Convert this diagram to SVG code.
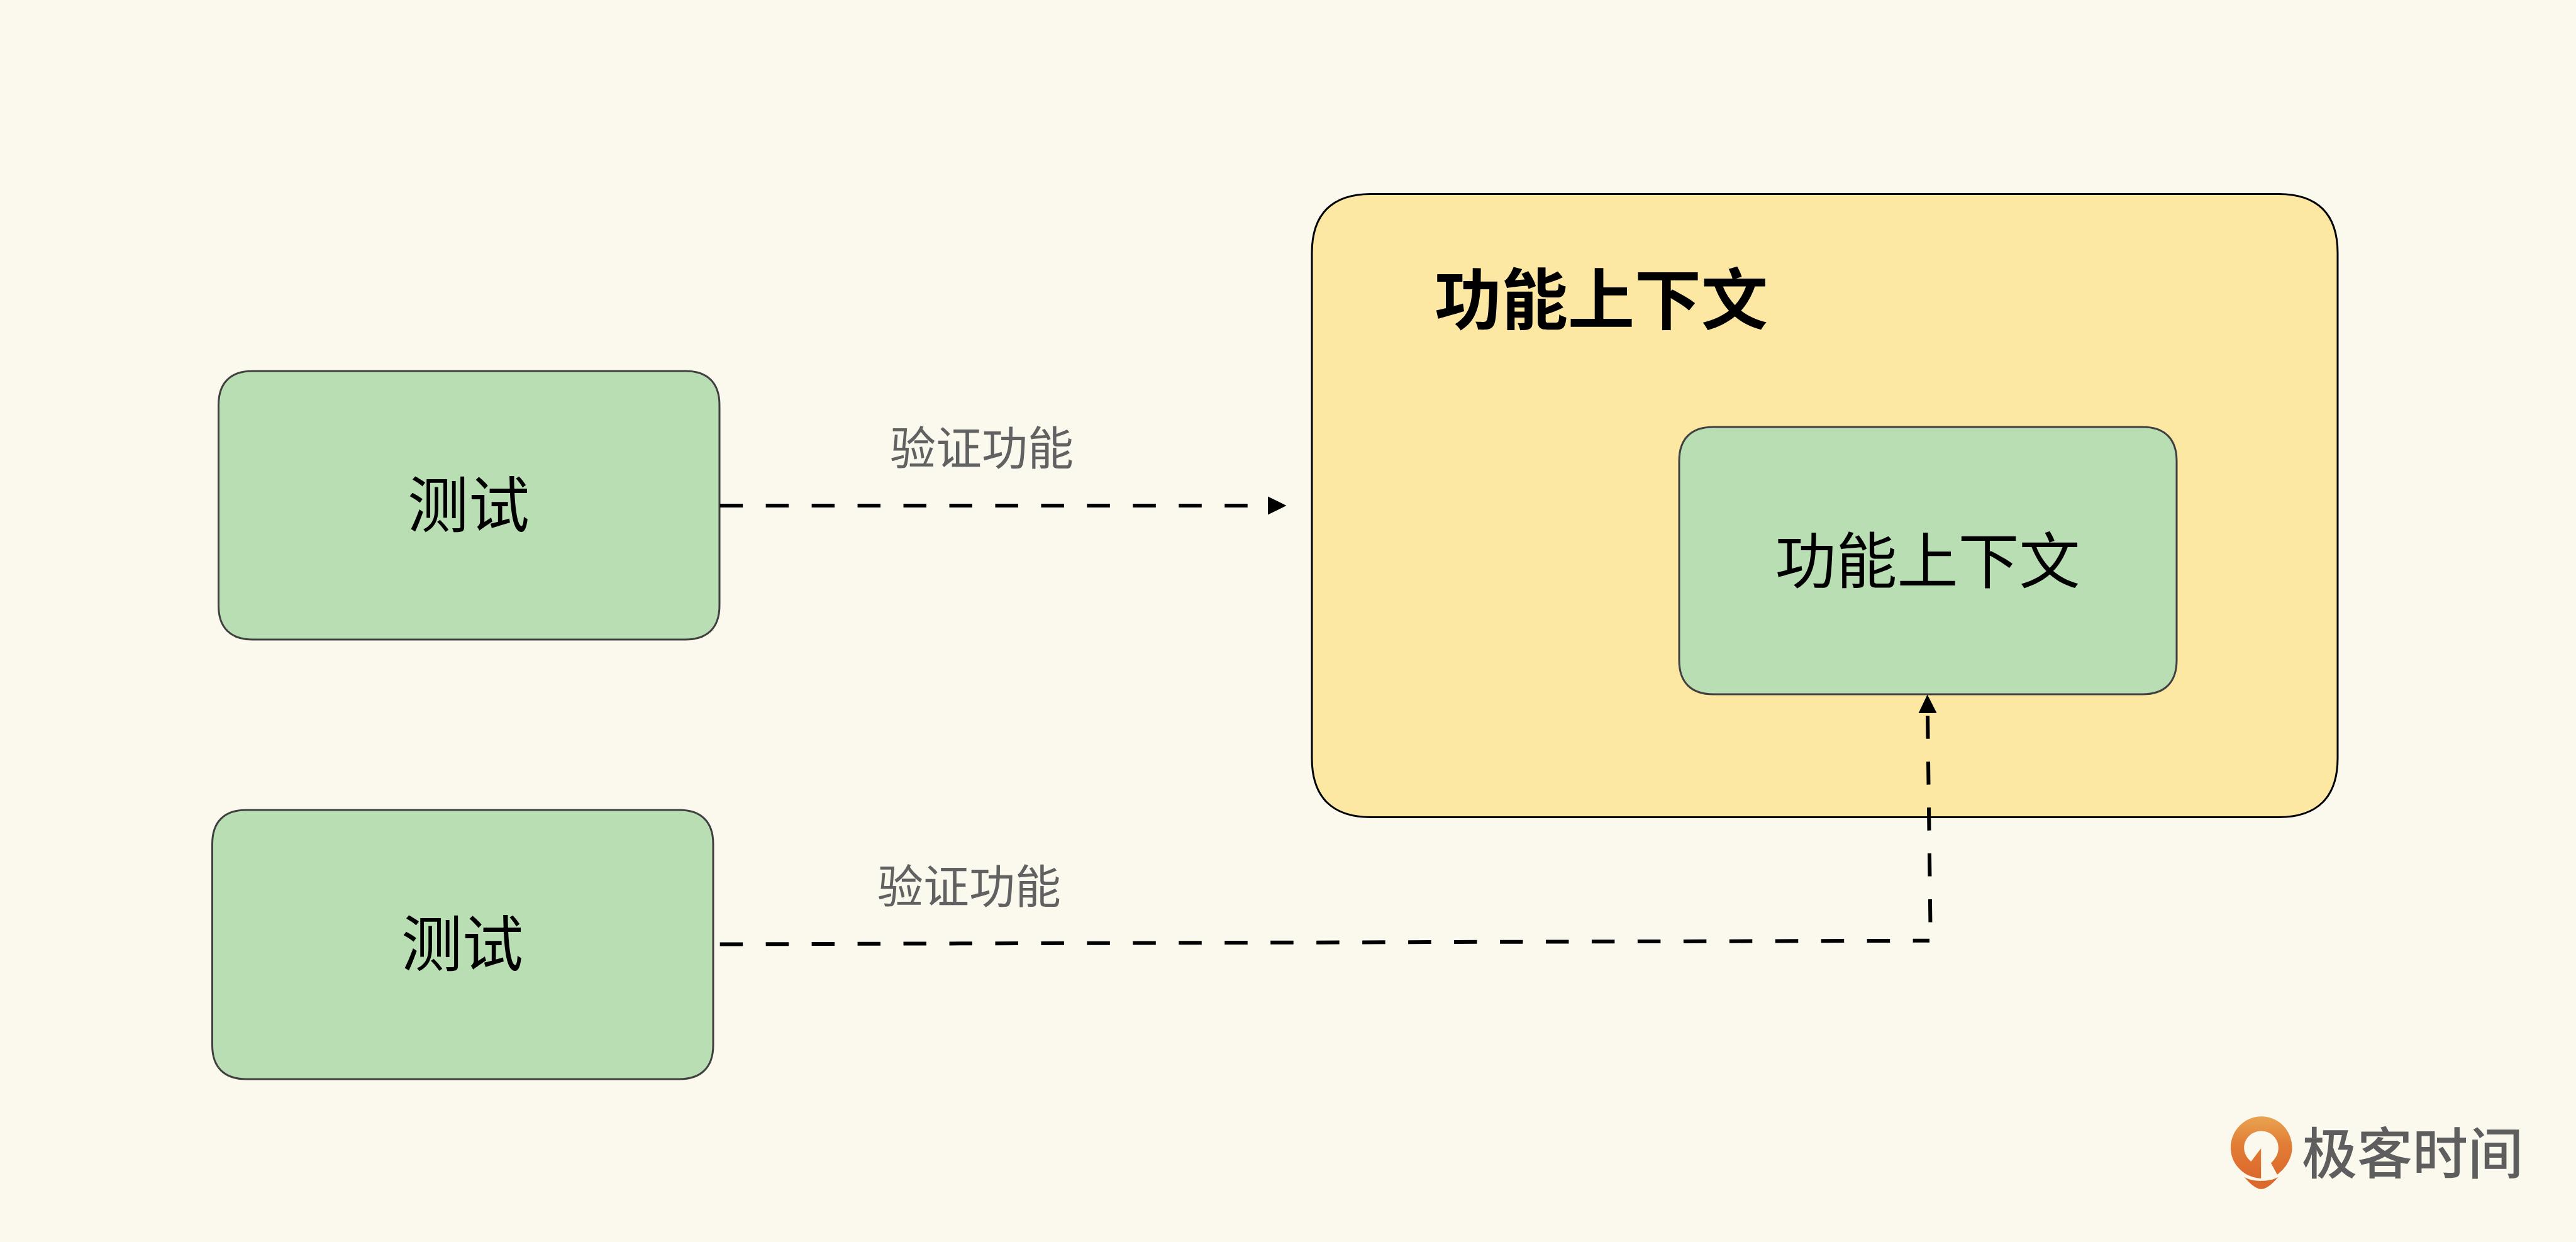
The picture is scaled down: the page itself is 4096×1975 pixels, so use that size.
<svg xmlns="http://www.w3.org/2000/svg" width="4096" height="1975" viewBox="0 0 4096 1975">
<style>
.t{font-family:"Noto Sans CJK SC","Noto Sans",sans-serif;text-anchor:middle;fill:#000}
.g{fill:#b9deb3;stroke:#404040;stroke-width:3}
.c{fill:none;stroke:#000;stroke-width:6;stroke-dasharray:36.48 36.48}
.l{font-size:73px;fill:#616161}
.n{font-size:97px}
</style>
<defs>
<marker id="a" markerUnits="userSpaceOnUse" markerWidth="30" markerHeight="30" refX="0" refY="15" orient="auto"><path d="M0 .5L29.5 15L0 29.5z" fill="#000"/></marker>
<linearGradient id="o" x1="0" y1="0" x2="0" y2="1"><stop offset="0" stop-color="#e9a450"/><stop offset=".45" stop-color="#e27d36"/><stop offset="1" stop-color="#dc682c"/></linearGradient>
</defs>
<rect width="4096" height="1975" fill="#fbf9ed"/>
<g id="context">
<path d="M2086 402.4c0 -62 32 -94 94 -94H3623c62 0 94 32 94 94V1205.5c0 62 -32 94 -94 94H2180c-62 0 -94 -32 -94 -94z" fill="#fce7a3" stroke="#000" stroke-width="3"/>
<text class="t" x="2546" y="515" font-size="106" font-weight="700">功能上下文</text>
</g>
<g id="inner">
<path class="g" d="M2670 733c0 -35 19 -54 54 -54H3407c35 0 54 19 54 54V1050c0 35 -19 54 -54 54H2724c-35 0 -54 -19 -54 -54z"/>
<text class="t n" x="3065" y="927">功能上下文</text>
</g>
<g id="test1">
<path class="g" d="M347.5 644c0 -35 19 -54 54 -54H1090c35 0 54 19 54 54V963c0 35 -19 54 -54 54H401.5c-35 0 -54 -19 -54 -54z"/>
<text class="t n" x="745" y="838">测试</text>
</g>
<g id="test2">
<path class="g" d="M337.5 1342c0 -35 19 -54 54 -54H1080c35 0 54 19 54 54V1662c0 35 -19 54 -54 54H391.5c-35 0 -54 -19 -54 -54z"/>
<text class="t n" x="735" y="1536">测试</text>
</g>
<g id="connectors">
<path class="c" d="M1144.7 804H2016" marker-end="url(#a)"/>
<path class="c" d="M1144.7 1501.5L3068 1495.7"/>
<path class="c" d="M3069.4 1466.5L3065 1134" marker-end="url(#a)"/>
</g>
<g id="labels">
<text class="t l" x="1561" y="738.5">验证功能</text>
<text class="t l" x="1541" y="1435.5">验证功能</text>
</g>
<g id="logo">
<g transform="matrix(.3954 0 0 .2432 3429.1 1736.4)" fill="url(#o)">
<path d="M420 566C350 560 298 470 298 365C298 250 355 160 421 160C490 160 545 250 545 365C545 430 520 500 485 540L460 465C475 440 490 410 490 365C490 305 460 255 421 255C382 255 352 305 352 365C352 400 362 430 380 455L420 368Z"/>
<path d="M352 555C385 590 455 590 490 555C470 590 445 635 421 635C397 635 372 590 352 555Z" fill="#dc682c"/>
</g>
<text class="t" x="3836" y="1866" font-size="88" font-weight="500" style="fill:#5f5e5e">极客时间</text>
</g>
</svg>
